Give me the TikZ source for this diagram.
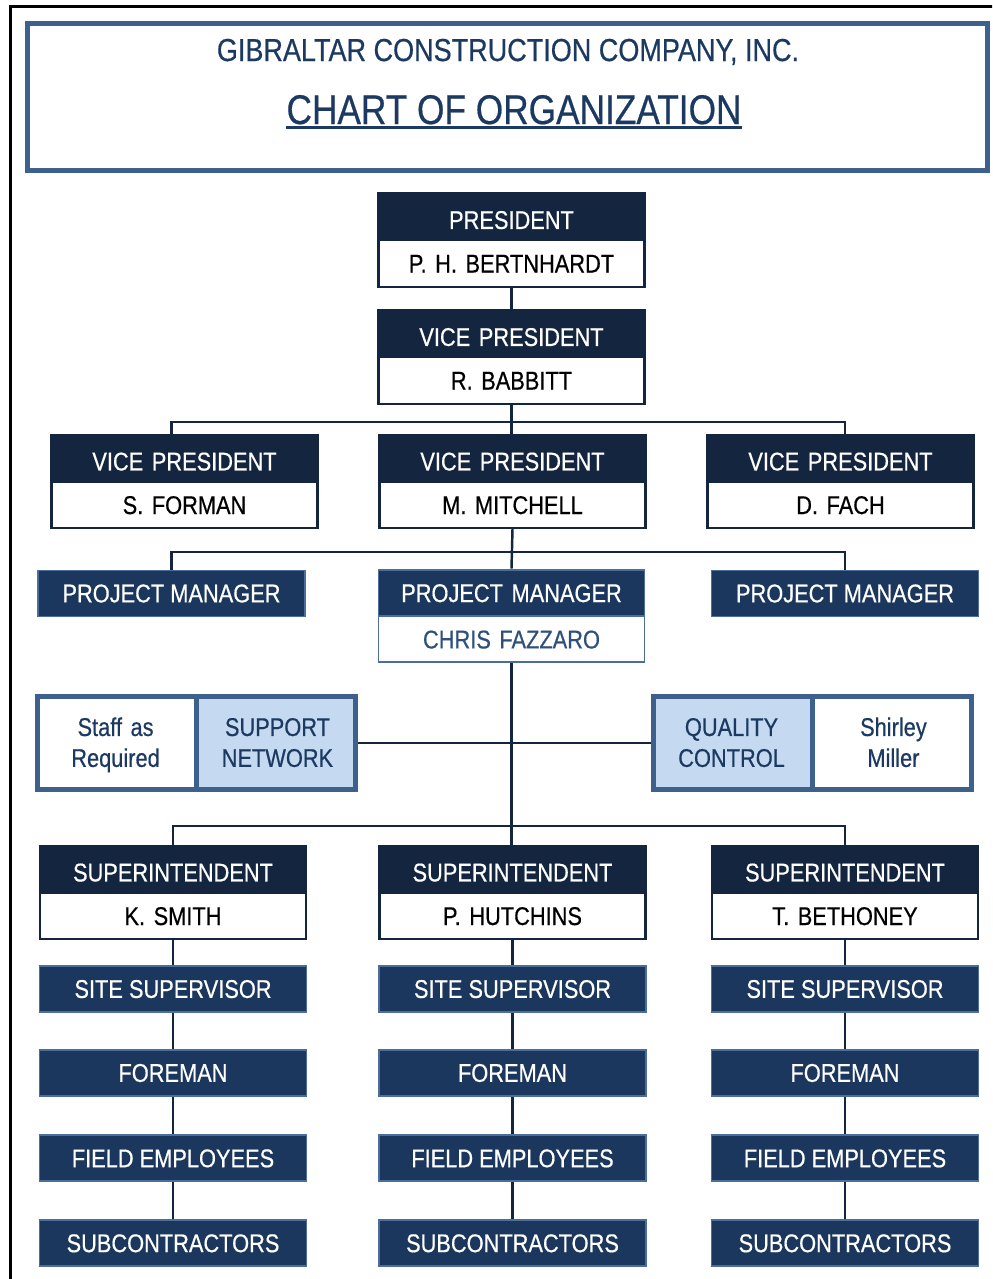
\documentclass[tikz,border=0pt]{standalone}
\usepackage{fontspec}
\setmainfont{Liberation Sans}[FakeStretch=0.85, FakeBold=0.5]
\usetikzlibrary{positioning,shapes.multipart}
\usepackage{xcolor}
\definecolor{navy}{RGB}{20, 38, 63}
\definecolor{boxblue}{RGB}{27, 55, 93}
\definecolor{edgeblue}{RGB}{76, 110, 155}
\definecolor{frameblue}{RGB}{61, 96, 140}
\definecolor{lightblue}{RGB}{197, 217, 241}
\definecolor{textblue}{RGB}{28, 58, 97}
\definecolor{nameblue}{RGB}{46, 80, 123}
\newcommand{\headstrut}{\rule[-5.7pt]{0pt}{25.3pt}}
\newcommand{\partstrut}{\rule[-7.4pt]{0pt}{25.3pt}}
\newcommand{\topstrut}{\rule{0pt}{22.4pt}}
\newcommand{\botstrut}{\rule[-12.8pt]{0pt}{12.8pt}}

\begin{document}
\begin{tikzpicture}[
        x=0.02cm, y=-0.02cm,
        boxfont/.style={font=\fontsize{14.6}{17.6}\selectfont},
        twobox/.style={
            rectangle split,
            rectangle split parts=2,
            rectangle split part fill={navy, white},
            draw=navy,
            line width=1.2pt,
            text width=5.32cm,
            align=center,
            inner xsep=0pt,
            inner ysep=0pt,
            boxfont
        },
        onebox/.style={
            rectangle,
            fill=boxblue,
            draw=edgeblue,
            line width=1.1pt,
            minimum width=5.34cm,
            minimum height=0.92cm,
            inner sep=0pt,
            text=white,
            boxfont
        },
        sidebox/.style={
            rectangle split,
            rectangle split horizontal,
            rectangle split parts=2,
            draw=frameblue,
            line width=2.8pt,
            text width=3.14cm,
            align=center,
            inner xsep=0pt,
            inner ysep=0pt,
            text=textblue,
            boxfont
        },
        link/.style={draw=navy, line width=1.4pt}
    ]
        \useasboundingbox (0,0) rectangle (992,1279);
        \clip (0,0) rectangle (992,1279);
        \draw[line width=1.7pt] (10.5,6.5) rectangle (1010,1300);

        \node (0) [
            draw=frameblue,
            line width=2.8pt,
            minimum width=19.2cm,
            minimum height=2.94cm,
            inner sep=0pt
        ] at (507.5,97) {};
        \node (t1) [anchor=base, inner sep=0pt, text=textblue, font=\fontsize{18.1}{22}\selectfont]
            at (508,61) {GIBRALTAR CONSTRUCTION COMPANY, INC.};
        \node (t2) [anchor=base, inner sep=0pt, text=textblue, font=\fontsize{23.6}{28}\selectfont]
            at (514,124) {CHART OF ORGANIZATION};
        \draw[draw=textblue, line width=2.2pt] ([yshift=-2pt]t2.base west) -- ([yshift=-2pt]t2.base east);

        \node (1) [twobox] at (511.5,240)
        {
            \nodepart{one}
                {\color{white}\headstrut PRESIDENT}
            \nodepart{two}
                \partstrut P. H. BERTNHARDT
        };
        \node (2) [twobox] at (511.5,357)
        {
            \nodepart{one}
                {\color{white}\headstrut VICE PRESIDENT}
            \nodepart{two}
                \partstrut R. BABBITT
        };
        \node (3) [twobox] at (184.5,481.5)
        {
            \nodepart{one}
                {\color{white}\headstrut VICE PRESIDENT}
            \nodepart{two}
                \partstrut S. FORMAN
        };
        \node (4) [twobox] at (512.5,481.5)
        {
            \nodepart{one}
                {\color{white}\headstrut VICE PRESIDENT}
            \nodepart{two}
                \partstrut M. MITCHELL
        };
        \node (5) [twobox] at (840.5,481.5)
        {
            \nodepart{one}
                {\color{white}\headstrut VICE PRESIDENT}
            \nodepart{two}
                \partstrut D. FACH
        };

        \node (6) [onebox] at (171.5,593.5) {PROJECT MANAGER};
        \node (7) [
            twobox,
            rectangle split part fill={boxblue, white},
            draw=edgeblue,
            line width=1.1pt
        ] at (511.5,616)
        {
            \nodepart{one}
                {\color{white}\partstrut PROJECT MANAGER}
            \nodepart{two}
                {\color{nameblue}\partstrut CHRIS FAZZARO}
        };
        \node (8) [onebox] at (845,593.5) {PROJECT MANAGER};

        \node (9) [
            sidebox,
            rectangle split part fill={white, lightblue}
        ] at (196.5,743)
        {
            \nodepart{one}
                \topstrut Staff as\\Required\botstrut
            \nodepart{two}
                \topstrut SUPPORT\\NETWORK\botstrut
        };
        \node (10) [
            sidebox,
            rectangle split part fill={lightblue, white}
        ] at (812.5,743)
        {
            \nodepart{one}
                \topstrut QUALITY\\CONTROL\botstrut
            \nodepart{two}
                \topstrut Shirley\\Miller\botstrut
        };

        \node (11) [twobox] at (173,892.5)
        {
            \nodepart{one}
                {\color{white}\headstrut SUPERINTENDENT}
            \nodepart{two}
                \partstrut K. SMITH
        };
        \node (12) [twobox] at (512.5,892.5)
        {
            \nodepart{one}
                {\color{white}\headstrut SUPERINTENDENT}
            \nodepart{two}
                \partstrut P. HUTCHINS
        };
        \node (13) [twobox] at (845,892.5)
        {
            \nodepart{one}
                {\color{white}\headstrut SUPERINTENDENT}
            \nodepart{two}
                \partstrut T. BETHONEY
        };

        \node (14) [onebox, below=0.5cm of 11] {SITE SUPERVISOR};
        \node (15) [onebox, below=0.5cm of 12] {SITE SUPERVISOR};
        \node (16) [onebox, below=0.5cm of 13] {SITE SUPERVISOR};
        \node (17) [onebox, below=0.72cm of 14] {FOREMAN};
        \node (18) [onebox, below=0.72cm of 15] {FOREMAN};
        \node (19) [onebox, below=0.72cm of 16] {FOREMAN};
        \node (20) [onebox, below=0.75cm of 17] {FIELD EMPLOYEES};
        \node (21) [onebox, below=0.75cm of 18] {FIELD EMPLOYEES};
        \node (22) [onebox, below=0.75cm of 19] {FIELD EMPLOYEES};
        \node (23) [onebox, below=0.74cm of 20] {SUBCONTRACTORS};
        \node (24) [onebox, below=0.74cm of 21] {SUBCONTRACTORS};
        \node (25) [onebox, below=0.74cm of 22] {SUBCONTRACTORS};

        \coordinate (b1) at (511.5,422);
        \coordinate (b2) at (511.5,552);
        \coordinate (b3) at (511.5,826);
        \draw[link] (1.south) -- (2.north);
        \draw[link] (2.south) -- (2.south |- 4.north);
        \draw[link] (3.north -| 6.north) |- (b1) -| (5.north -| 8.north);
        \draw[link] (4.south) -- (7.north);
        \draw[link] (6.north) |- (b2) -| (8.north);
        \draw[link] (9.east) -- (10.west);
        \draw[link] (7.south) -- (7.south |- 12.north);
        \draw[link] (11.north) |- (b3) -| (13.north);
        \draw[link] (11.south) -- (14.north) (14.south) -- (17.north) (17.south) -- (20.north) (20.south) -- (23.north);
        \draw[link] (12.south) -- (15.north) (15.south) -- (18.north) (18.south) -- (21.north) (21.south) -- (24.north);
        \draw[link] (13.south) -- (16.north) (16.south) -- (19.north) (19.south) -- (22.north) (22.south) -- (25.north);
    \end{tikzpicture}
\end{document}
